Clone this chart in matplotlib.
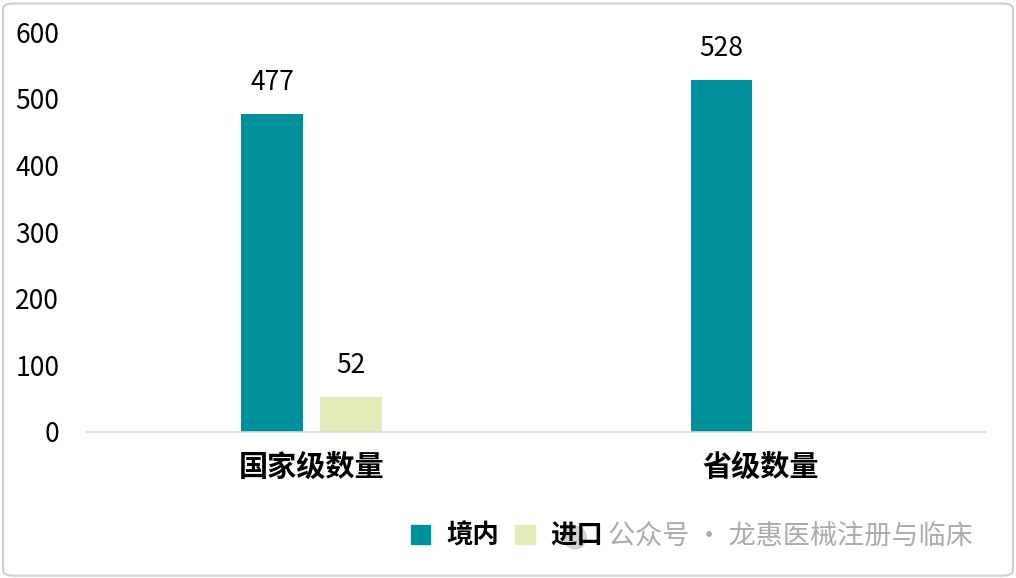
import matplotlib.pyplot as plt
from matplotlib.patches import FancyBboxPatch, Patch, Ellipse
import numpy as np

plt.rcParams['font.family'] = ['Noto Sans CJK SC', 'DejaVu Sans']

categories = ['国家级数量', '省级数量']
domestic = [477, 528]
imported = [52, None]
series_names = ['境内', '进口']
colors = ['#00909B', '#E3EBB7']

fig = plt.figure(figsize=(10.16, 5.78), dpi=100)
ax = fig.add_axes([0.0856, 0.2526, 0.884, 0.692])

x = np.arange(len(categories))
w = 0.136
off = 0.088

ax.bar(x - off, domestic, w, color=colors[0])
for xi, v in zip(x, domestic):
    ax.annotate(str(v), (xi - off, v), xytext=(0, 23), textcoords='offset points',
                ha='center', va='center', fontsize=19)
for xi, v in zip(x, imported):
    if v is None:
        continue
    ax.bar(xi + off, v, w, color=colors[1])
    ax.annotate(str(v), (xi + off, v), xytext=(0, 23), textcoords='offset points',
                ha='center', va='center', fontsize=19)

ax.set_xlim(-0.5, 1.5)
ax.set_ylim(0, 600)
ax.set_yticks(range(0, 601, 100))
ax.set_xticks(x)
ax.set_xticklabels(categories, fontsize=21, fontweight='bold')
ax.tick_params(axis='y', length=0, pad=20, labelsize=19)
ax.tick_params(axis='x', length=0, pad=14)
for s in ['top', 'right', 'left']:
    ax.spines[s].set_visible(False)
ax.spines['bottom'].set_color('#D9D9D9')
ax.spines['bottom'].set_linewidth(1.2)

# watermark icon (behind legend text)
fig.patches.append(Ellipse((0.566, 0.070), 0.022, 0.039, transform=fig.transFigure,
                           color='#C8C8C8', alpha=0.8, zorder=0))

handles = [Patch(color=c) for c in colors]
leg = fig.legend(handles, series_names, loc='center', bbox_to_anchor=(0.499, 0.072),
                 ncol=2, frameon=False, handlelength=0.75, handleheight=0.75,
                 handletextpad=0.6, columnspacing=0.6,
                 prop={'size': 19, 'weight': 'bold'})

fig.text(0.598, 0.072, '公众号 · 龙惠医械注册与临床', color='#ABABAB', fontsize=19.5,
         ha='left', va='center')

# border
fig.patches.append(FancyBboxPatch((0.003, 0.004), 0.994, 0.99, boxstyle='round,pad=0,rounding_size=0.01',
                                  transform=fig.transFigure, fill=False, edgecolor='#D0D0D0', lw=1.5))

fig.savefig('out.png', dpi=100)
